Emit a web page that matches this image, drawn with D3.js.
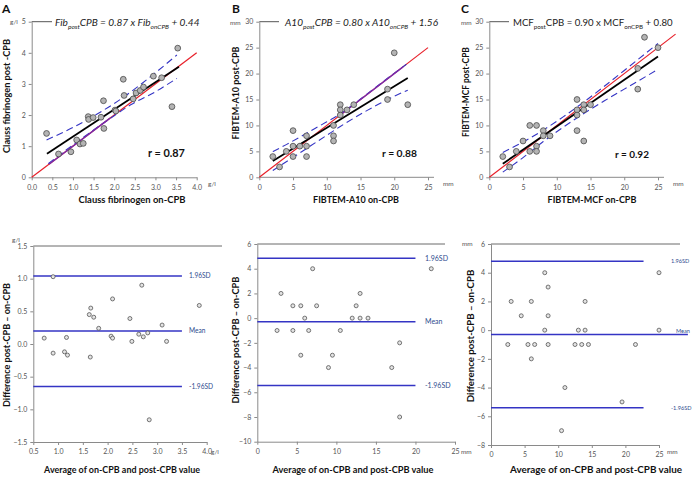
<!DOCTYPE html>
<html><head><meta charset="utf-8">
<script src="https://cdn.jsdelivr.net/npm/d3@7"></script>
<style>body{margin:0;background:#fff}svg{display:block}</style>
</head><body><svg id="c" width="693" height="477"></svg>
<script>
// ---------- DATA ----------
// Panel A (Clauss fibrinogen, g/l)
const fibOn   = [0.36,0.65,0.95,1.09,1.17,1.25,1.37,1.38,1.49,1.68,1.74,1.75,2.02,2.04,2.22,2.24,2.46,2.53,2.63,2.71,2.95,3.15,3.40,3.54];
const fibPost = [1.41,0.75,0.82,1.20,1.07,1.09,1.95,1.86,1.92,1.93,2.46,1.57,2.16,2.13,3.15,2.63,2.52,2.71,2.79,2.90,3.25,3.20,2.27,4.15];
const fibReg   = [[0.37,0.76],[3.57,3.55]];
const fibUpper = [[0.36,1.20],[1.0,1.60],[1.5,1.97],[2.0,2.37],[2.5,2.84],[3.0,3.36],[3.52,3.93]];
const fibLower = [[0.40,0.44],[1.0,1.04],[1.5,1.52],[2.0,1.98],[2.4,2.33],[3.0,2.75],[3.52,3.18]];
const fibIdent = [[0,0],[4,4]];
const fibPurple = [[0.42,0.42],[1.9,1.9]];
const fibAvg  = [0.72,0.90,0.90,1.13,1.17,1.19,1.63,1.66,1.65,1.72,1.82,2.07,2.10,2.10,2.45,2.49,2.63,2.69,2.72,2.81,2.84,3.10,3.19,3.85];
const fibDiff = [0.09,1.03,-0.14,-0.12,0.10,-0.17,0.45,0.55,-0.20,0.41,0.24,0.12,0.09,0.69,0.39,0.04,0.15,0.90,0.11,0.17,-1.16,0.29,0.04,0.59];
const fibLimits = [1.04, 0.20, -0.65];
const fibLimitEnds = [3.5, 3.5, 3.5];

// Panel B (FIBTEM-A10, mm)
const a10On   = [2,3,4,5,5,5,6,7,7,7,11,11,11,12,12,12,13,14,19,19,20,22];
const a10Post = [4,2,5,9,6,4,6,8,6,4,10,8,7,14,13,12,13,14,17,15,24,14];
const a10Reg   = [[2,3.16],[22,19.16]];
const a10Upper = [[2,4.95],[4,6.3],[7,8.5],[10,10.7],[12.2,12.4],[15,15.1],[18,18.1],[21.8,21.8]];
const a10Lower = [[2,1.3],[6,4.7],[10,8.1],[12,9.8],[16,12.9],[19,15.0],[22,16.8]];
const a10Ident = [[0,0],[25,25]];
const a10Purple = [[12.2,12.2],[21.3,21.3]];
const a10Avg  = [2.5,3,4.5,4.5,5.5,5.5,6,6.5,7,7.5,9,9.5,10.5,12,12.5,13,13,14,17,18,18,22];
const a10Diff = [-1,2,1,-1,1,-3,0,-1,4,1,-4,-3,-1,0,1,2,0,0,-4,-2,-8,4];
const a10Limits = [4.85, -0.3, -5.45];
const a10LimitEnds = [20, 20, 20];

// Panel C (FIBTEM-MCF, mm)
const mcfOn   = [2,3,4,5,6,6,7,7,7,8,8,9,13,13,13,13,14,14,14,15,22,22,23,25];
const mcfPost = [4,2,5,7,10,5,10,6,5,9,8,8,15,13,12,9,14,13,7,14,21,17,27,25];
const mcfReg   = [[2,2.6],[25,23.3]];
const mcfUpper = [[2,4.8],[5,6.8],[8,9.1],[11,11.7],[14,14.5],[17,17.5],[20,20.6],[25,25.8]];
const mcfLower = [[2,1.0],[5,3.8],[8,6.9],[11,9.7],[14,12.3],[17,14.7],[20,17.0],[25,20.8]];
const mcfIdent = [[0,0],[27.6,27.6]];
const mcfAvg  = [3,2.5,4.5,6,8,5.5,8.5,6.5,6,8.5,8,8.5,14,13,12.5,11,14,13.5,10.5,14.5,21.5,19.5,25,25];
const mcfDiff = [2,-1,1,2,4,-1,3,-1,-2,1,0,-1,2,0,-1,-4,0,-1,-7,-1,-1,-5,4,0];
const mcfLimits = [4.8, -0.3, -5.4];
const mcfLimitEnds = [22.7, 29.3, 22.7];

const limitLabels = ["1.96SD","Mean","-1.96SD"];
const fibXTicks = [0,0.5,1,1.5,2,2.5,3,3.5,4];
const fibYTicks = [0,1,2,3,4,5];
const mmXTicks = [0,5,10,15,20,25];
const mmYTicks = [0,5,10,15,20,25,30];
const fibBaXTicks = [0.5,1,1.5,2,2.5,3,3.5,4];
const fibBaYTicks = [-1.5,-1,-0.5,0,0.5,1,1.5];
const a10BaYTicks = [-10,-8,-6,-4,-2,0,2,4,6];
const mcfBaYTicks = [-8,-6,-4,-2,0,2,4,6];

// ---------- DRAWING ----------
const svg = d3.select("#c");
const FONT = "Lato, 'Open Sans', Arial, sans-serif";
const AXC = "#8a8a8a", TICKC = "#555";
const BLUE = "#3434c4", RED = "#e8202a", PURPLE = "#7a2aa8";

function fit(t, base, target) {
  const w = t.node().getComputedTextLength();
  if (w > 0) t.attr("font-size", base * target / w);
  return t;
}

function axes(g, x, y, xt, yt, xfmt, yfmt, xEnd, topEnd) {
  const ax = d3.axisBottom(x).tickValues(xt).tickFormat(xfmt).tickSize(3).tickSizeOuter(0);
  const ay = d3.axisLeft(y).tickValues(yt).tickFormat(yfmt).tickSize(3).tickSizeOuter(0);
  const gx = g.append("g").attr("transform", `translate(0,${y.range()[0]})`).call(ax);
  const gy = g.append("g").attr("transform", `translate(${x.range()[0]},0)`).call(ay);
  [gx, gy].forEach(a => {
    a.select(".domain").attr("stroke", AXC).attr("stroke-width", 1);
    a.selectAll(".tick line").attr("stroke", AXC);
    a.selectAll(".tick text").attr("fill", TICKC).attr("font-size", 7).attr("font-family", FONT);
  });
  gx.selectAll(".tick text").attr("dy", "0.9em");
  if (xEnd) gx.select(".domain").attr("d", `M${x.range()[0]},0H${xEnd}`);
  if (topEnd) {
    g.append("line").attr("x1", x.range()[0]).attr("x2", topEnd)
      .attr("y1", y.range()[1]).attr("y2", y.range()[1]).attr("stroke", "#6a6a6a").attr("stroke-width", 1);
  }
}
function txt(x, y, s, o = {}) {
  const t = svg.append("text").attr("x", x).attr("y", y).text(s)
    .attr("font-family", o.family || FONT).attr("font-size", o.size || 10)
    .attr("font-weight", o.weight || "normal").attr("fill", o.fill || "#111")
    .attr("text-anchor", o.anchor || "start");
  if (o.style) t.attr("font-style", o.style);
  if (o.rotate) t.attr("transform", `rotate(-90,${x},${y})`);
  if (o.w) fit(t, o.size || 10, o.w);
  return t;
}
function equation(x, y, parts, italic, target) {
  const t = svg.append("text").attr("x", x).attr("y", y).attr("font-family", FONT)
    .attr("fill", "#222").attr("font-style", italic ? "italic" : "normal");
  const build = (s) => {
    t.selectAll("*").remove();
    t.attr("font-size", s);
    parts.forEach(p => {
      if (p.sub) t.append("tspan").attr("font-size", s * 0.65).attr("dy", s * 0.26).text(p.sub);
      else t.append("tspan").attr("dy", p.after ? -s * 0.26 : 0).text(p.t);
    });
  };
  build(11.5);
  const w = t.node().getBBox().width;
  build(11.5 * target / w);
  return t;
}

function scatterPanel(cfg) {
  const g = svg.append("g");
  const x = d3.scaleLinear().domain(cfg.xd).range(cfg.xr);
  const y = d3.scaleLinear().domain(cfg.yd).range([177.3, 21.7]);
  g.append("line").attr("x1", cfg.xr[0]).attr("x2", cfg.topEnd).attr("y1", 21.7).attr("y2", 21.7)
    .attr("stroke", "#555").attr("stroke-width", 1);
  axes(g, x, y, cfg.xt, cfg.yt, cfg.xfmt, d3.format("d"), cfg.xEnd, null);
  const line = d3.line().x(d => x(d[0])).y(d => y(d[1]));
  const curve = d3.line().x(d => x(d[0])).y(d => y(d[1])).curve(d3.curveMonotoneX);
  g.append("path").attr("d", line(cfg.ident)).attr("stroke", RED).attr("stroke-width", 1.2).attr("fill", "none");
  g.append("path").attr("d", curve(cfg.upper)).attr("stroke", BLUE).attr("stroke-width", 1.1)
    .attr("stroke-dasharray", "7,4").attr("fill", "none");
  g.append("path").attr("d", curve(cfg.lower)).attr("stroke", BLUE).attr("stroke-width", 1.1)
    .attr("stroke-dasharray", "7,4").attr("fill", "none");
  if (cfg.purple) g.append("path").attr("d", line(cfg.purple)).attr("stroke", PURPLE).attr("stroke-width", 1.4).attr("fill", "none");
  g.append("path").attr("d", line(cfg.reg)).attr("stroke", "#000").attr("stroke-width", 1.8).attr("fill", "none");
  g.selectAll("circle.p").data(d3.zip(cfg.on, cfg.post)).join("circle")
    .attr("cx", d => x(d[0])).attr("cy", d => y(d[1])).attr("r", 2.9)
    .attr("fill", "#b4b4b4").attr("stroke", "#4a4a4a").attr("stroke-width", 0.8);
}

function baPanel(cfg) {
  const g = svg.append("g");
  const x = d3.scaleLinear().domain(cfg.xd).range(cfg.xr);
  const y = d3.scaleLinear().domain(cfg.yd).range(cfg.yr);
  axes(g, x, y, cfg.xt, cfg.yt, cfg.xfmt, cfg.yfmt, null, cfg.topEnd);
  cfg.limits.forEach((v, i) => {
    g.append("line").attr("x1", x(cfg.xd[0])).attr("x2", x(cfg.ends[i]))
      .attr("y1", y(v)).attr("y2", y(v)).attr("stroke", BLUE).attr("stroke-width", 1.5);
    g.append("text").attr("x", cfg.labelX + (i === 1 ? cfg.meanDx : 0)).attr("y", y(v) + (i === 1 ? cfg.meanDy : 0))
      .attr("dy", "0.35em").text(limitLabels[i])
      .attr("font-family", FONT).attr("font-size", cfg.labelSize).attr("fill", "#2d4b8e");
  });
  g.selectAll("circle.p").data(d3.zip(cfg.avg, cfg.diff)).join("circle")
    .attr("cx", d => x(d[0])).attr("cy", d => y(d[1])).attr("r", 2)
    .attr("fill", "#e4e4e4").attr("stroke", "#555").attr("stroke-width", 0.8);
}

// Top row
scatterPanel({xd:[0,4], xr:[31.7,196.7], yd:[0,5], xt:fibXTicks, yt:fibYTicks, xfmt:d3.format(".1f"),
  on:fibOn, post:fibPost, reg:fibReg, upper:fibUpper, lower:fibLower, ident:fibIdent, purple:fibPurple, topEnd:52});
scatterPanel({xd:[0,25], xr:[259.3,428], yd:[0,30], xt:mmXTicks, yt:mmYTicks, xfmt:d3.format("d"),
  on:a10On, post:a10Post, reg:a10Reg, upper:a10Upper, lower:a10Lower, ident:a10Ident, purple:a10Purple, topEnd:279, xEnd:434});
scatterPanel({xd:[0,25], xr:[489.3,658], yd:[0,30], xt:mmXTicks, yt:mmYTicks, xfmt:d3.format("d"),
  on:mcfOn, post:mcfPost, reg:mcfReg, upper:mcfUpper, lower:mcfLower, ident:mcfIdent, purple:null, topEnd:509, xEnd:664});

// Bottom row
baPanel({xd:[0.5,4], xr:[33.3,206.7], yd:[-1.5,1.5], yr:[442,246], xt:fibBaXTicks, yt:fibBaYTicks,
  xfmt:d3.format(".1f"), yfmt:d3.format(".1f"), avg:fibAvg, diff:fibDiff, limits:fibLimits, ends:fibLimitEnds,
  topEnd:222, labelX:189, meanDx:0, meanDy:0, labelSize:6.6});
baPanel({xd:[0,25], xr:[257.3,455], yd:[-10,6], yr:[441.7,244], xt:mmXTicks, yt:a10BaYTicks,
  xfmt:d3.format("d"), yfmt:d3.format("d"), avg:a10Avg, diff:a10Diff, limits:a10Limits, ends:a10LimitEnds,
  topEnd:445, labelX:425, meanDx:0, meanDy:0, labelSize:7});
baPanel({xd:[0,25], xr:[491,659], yd:[-8,6], yr:[445,244], xt:mmXTicks, yt:mcfBaYTicks,
  xfmt:d3.format("d"), yfmt:d3.format("d"), avg:mcfAvg, diff:mcfDiff, limits:mcfLimits, ends:mcfLimitEnds,
  topEnd:680, labelX:671, meanDx:5, meanDy:-3, labelSize:5.6});

// Panel letters
txt(2, 13, "A", {size:12, weight:"bold"});
txt(232, 13, "B", {size:12, weight:"bold"});
txt(461, 13, "C", {size:12, weight:"bold"});

// Equations
equation(55, 26, [{t:"Fib"},{sub:"post"},{t:"CPB = 0.87 x Fib", after:true},{sub:"onCPB"},{t:" + 0.44", after:true}], true, 145);
equation(285, 26, [{t:"A10"},{sub:"post"},{t:"CPB = 0.80 x A10", after:true},{sub:"onCPB"},{t:" + 1.56", after:true}], true, 154);
equation(513, 26, [{t:"MCF"},{sub:"post"},{t:"CPB = 0.90 x MCF", after:true},{sub:"onCPB"},{t:" + 0.80", after:true}], false, 160);

// r values
txt(148, 157, "r = 0.87", {size:11.5, weight:"bold", w:37});
txt(382, 157, "r = 0.88", {size:11.5, weight:"bold", w:35});
txt(615, 158, "r = 0.92", {size:11.5, weight:"bold", w:34});

// Axis titles top
const AT = {size:10, weight:"bold"};
txt(10, 96, "Clauss fibrinogen post -CPB", {...AT, anchor:"middle", rotate:true, w:114});
txt(239, 93, "FIBTEM-A10 post-CPB", {...AT, anchor:"middle", rotate:true, w:93});
txt(469, 92, "FIBTEM-MCF post-CPB", {...AT, anchor:"middle", rotate:true, w:90});
txt(132, 203, "Clauss fibrinogen on-CPB", {...AT, anchor:"middle", w:107});
txt(356, 203, "FIBTEM-A10 on-CPB", {...AT, anchor:"middle", w:86});
txt(592, 203, "FIBTEM-MCF on-CPB", {...AT, anchor:"middle", w:89});
// Axis titles bottom
txt(10, 345, "Difference post-CPB \u2013 on-CPB", {...AT, anchor:"middle", rotate:true, w:124});
txt(239, 340, "Difference post-CPB \u2013 on-CPB", {...AT, anchor:"middle", rotate:true, w:127});
txt(474, 336, "Difference post-CPB \u2013 on-CPB", {...AT, anchor:"middle", rotate:true, w:133});
txt(122, 473, "Average of on-CPB and post-CPB value", {...AT, anchor:"middle", w:156});
txt(353, 473, "Average of on-CPB and post-CPB value", {...AT, anchor:"middle", w:161});
txt(596, 473, "Average of on-CPB and post-CPB value", {...AT, anchor:"middle", w:172});

// Units
const U = {size:6.5, fill:"#555"};
txt(10, 24, "g/l", U); txt(208, 186, "g/l", U);
txt(230, 25, "mm", U); txt(443, 186, "mm", U);
txt(461, 25, "mm", U); txt(673, 186, "mm", U);
txt(12, 242, "g/l", U); txt(211, 454, "g/l", U);
txt(461, 454, "mm", U);
txt(462, 246, "mm", U); txt(667, 454, "mm", U);
</script></body></html>
